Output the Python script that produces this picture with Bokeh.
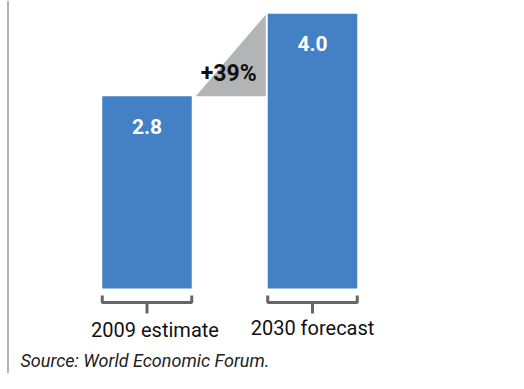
from bokeh.plotting import figure
from bokeh.models import Range1d, ColumnDataSource
from bokeh.core.properties import value
from bokeh.embed import file_html
from bokeh.resources import INLINE

categories = ["2009 estimate", "2030 forecast"]
values = [2.8, 4.0]
value_labels = ["2.8", "4.0"]
change_label = "+39%"
source_note = "Source: World Economic Forum."

W, H = 508, 373
PX = 68.7  # pixels per unit
zero_px = 288  # screen offset of baseline from top of frame
y0 = -(H - zero_px) / PX
y1 = zero_px / PX

p = figure(width=W, height=H, output_backend="svg", toolbar_location=None,
           x_range=Range1d(0, W), y_range=Range1d(y0, y1),
           min_border=0, outline_line_color=None)
p.axis.visible = False
p.grid.visible = False
p.background_fill_color = "white"

FONT = "Roboto"
centers = [146.5, 312.0]
bar_w = 89.5

src = ColumnDataSource(dict(x=centers, top=values, lab=value_labels, cat=categories,
                            laby=[v - 30 / PX for v in values]))
p.vbar(x="x", top="top", bottom=0, width=bar_w, source=src,
       fill_color="#4380c4", line_color=None)

# change triangle
xl = centers[0] + bar_w / 2 + 4
xr = centers[1] - bar_w / 2 - 2
p.patch([xl, xr, xr], [values[0], values[1] - 1 / PX, values[0]],
        fill_color="#b3b4b6", line_color=None)
p.text(x=[xl + 33], y=[values[0] + 23 / PX], text=[change_label],
       text_font=value(FONT), text_font_style="bold", text_font_size="23px",
       text_align="center", text_baseline="middle", text_color="#111111")

p.text(x="x", y="laby", text="lab", source=src, text_font=value(FONT),
       text_font_style="bold", text_font_size="21px", text_align="center",
       text_baseline="middle", text_color="white")

# brackets
yb = -14 / PX
yu = -7 / PX
yd = -25 / PX
for c in centers:
    a, b = c - bar_w / 2, c + bar_w / 2
    p.line([a, a, b, b], [yu, yb, yb, yu], line_color="#666666", line_width=3)
    p.line([c, c], [yb, yd], line_color="#666666", line_width=3)

p.text(x=[centers[0] + 8, centers[1] + 0], y=[-41 / PX, -39 / PX], text=categories,
       text_font=value(FONT), text_font_size="20px", text_align="center",
       text_baseline="middle", text_color="#111111")

p.text(x=[20], y=[-72 / PX], text=[source_note], text_font=value(FONT),
       text_font_style="italic", text_font_size="18px", text_align="left",
       text_baseline="middle", text_color="#222222")

# left border line
p.line([7.5, 7.5], [y0, y1], line_color="#9a9a9a", line_width=1.5)

open("out.html", "w").write(file_html(p, INLINE))
